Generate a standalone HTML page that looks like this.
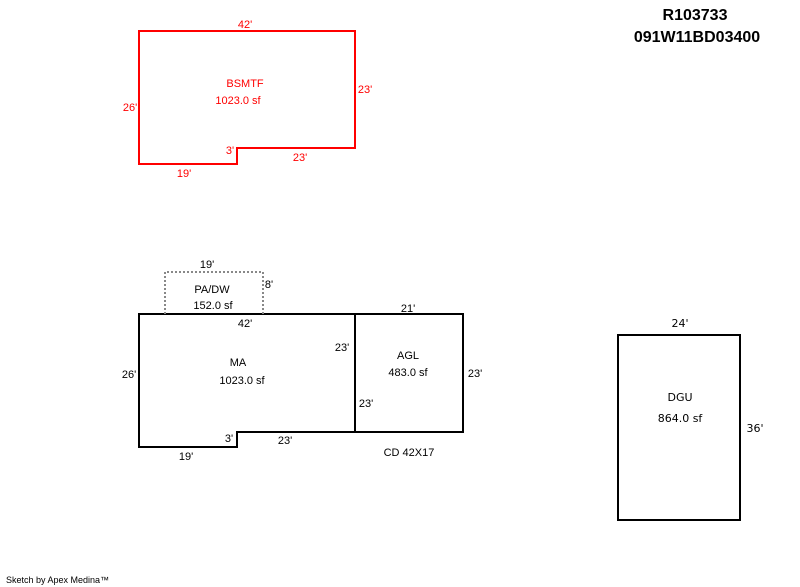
<!DOCTYPE html>
<html><head><meta charset="utf-8"><style>
html,body{margin:0;padding:0;background:#fff;width:800px;height:587px;overflow:hidden}
svg{display:block}
text{font-family:"Liberation Sans",Arial,sans-serif;font-size:11px}
</style></head><body>
<svg width="800" height="587" viewBox="0 0 800 587">
<g fill="none" stroke-width="2">
<polygon points="139,31 355,31 355,148 237,148 237,164 139,164" stroke="#ff0000"/>
<polygon points="139,314 463,314 463,432 237,432 237,447 139,447" stroke="#000"/>
<line x1="355" y1="314" x2="355" y2="432" stroke="#000"/>
<polyline points="165,314 165,272 263,272 263,314" stroke="#888" stroke-dasharray="2,2"/>
<rect x="618" y="335" width="122" height="185" stroke="#000"/>
</g>
<g fill="#ff0000" text-anchor="middle">
<text x="245" y="28">42'</text>
<text x="245" y="87">BSMTF</text>
<text x="238" y="104">1023.0 sf</text>
<text x="365" y="93">23'</text>
<text x="130" y="111">26'</text>
<text x="230" y="154">3'</text>
<text x="300" y="161">23'</text>
<text x="184" y="177">19'</text>
</g>
<g fill="#000" text-anchor="middle">
<text x="207" y="268">19'</text>
<text x="269" y="288">8'</text>
<text x="212" y="293">PA/DW</text>
<text x="213" y="309">152.0 sf</text>
<text x="245" y="327">42'</text>
<text x="408" y="312">21'</text>
<text x="342" y="351">23'</text>
<text x="238" y="366">MA</text>
<text x="242" y="384">1023.0 sf</text>
<text x="408" y="359">AGL</text>
<text x="408" y="376">483.0 sf</text>
<text x="475" y="377">23'</text>
<text x="129" y="378">26'</text>
<text x="366" y="407">23'</text>
<text x="229" y="442">3'</text>
<text x="285" y="444">23'</text>
<text x="186" y="460">19'</text>
<text x="409" y="456">CD 42X17</text>
<text x="680" y="327" style="font-family:'DejaVu Sans',sans-serif;font-size:11px">24'</text>
<text x="680" y="401" style="font-family:'DejaVu Sans',sans-serif;font-size:11px">DGU</text>
<text x="680" y="422" style="font-family:'DejaVu Sans',sans-serif;font-size:11px">864.0 sf</text>
<text x="755" y="432" style="font-family:'DejaVu Sans',sans-serif;font-size:11px">36'</text>
<text x="695" y="20" style="font-size:16px;font-weight:bold">R103733</text>
<text x="697" y="42" style="font-size:16px;font-weight:bold">091W11BD03400</text>
</g>
<text x="6" y="583" style="font-size:9px">Sketch by Apex Medina™</text>
</svg>
</body></html>
